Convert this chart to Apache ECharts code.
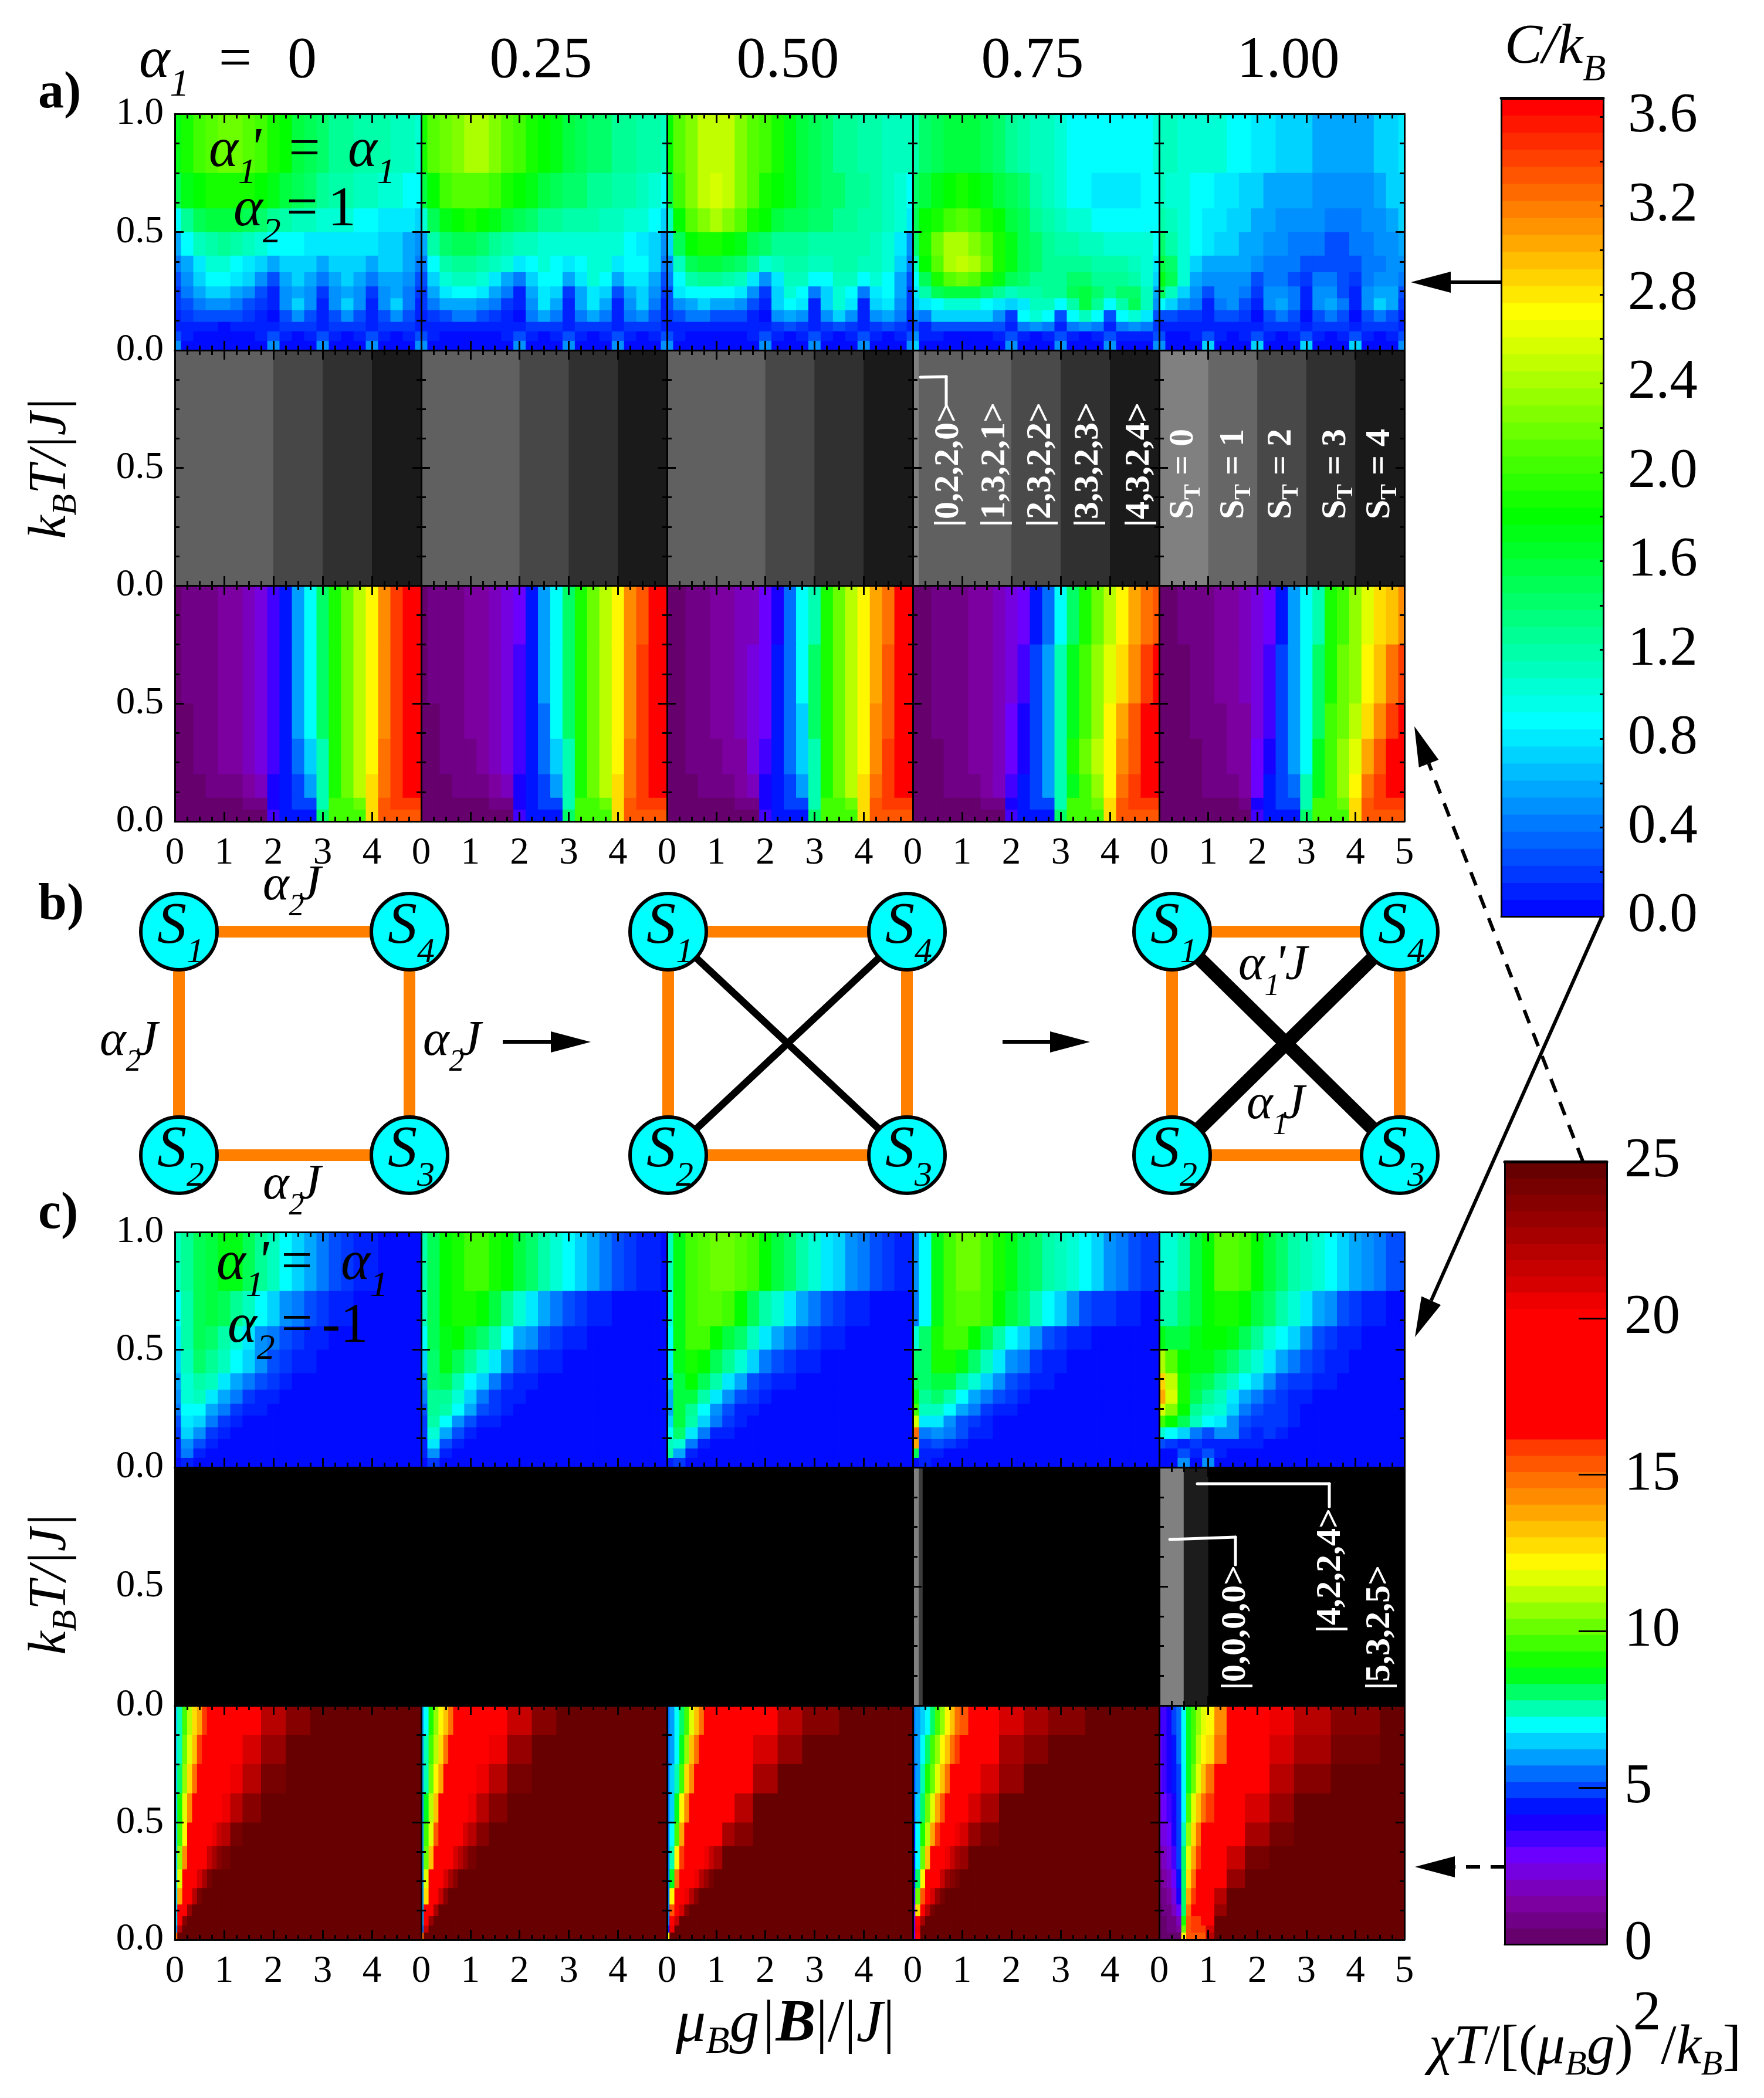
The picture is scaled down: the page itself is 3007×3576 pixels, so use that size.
<!DOCTYPE html>
<html><head><meta charset="utf-8"><style>html,body{margin:0;padding:0;background:#fff}#c{width:3007px;height:3576px}</style>
<script src="https://cdn.jsdelivr.net/npm/echarts@6/dist/echarts.min.js"></script></head><body><div id="c"></div><script>
// ---- sampling positions of the tables (field, temperature) ----
const X_STD=[0,.25,.5,.75,1,1.25,1.5,1.75,2,2.25,2.5,2.75,3,3.25,3.5,3.75,4,4.25,4.5,4.75,5];
const X_FINE=[0,.1,.2,.3,.4,.5,.6,.7,.8,.9,1,1.25,1.5,2,2.5,3,4,5];
const T_C=[1,.75,.6,.5,.4,.33,.27,.22,.17,.12,.08,.04,0];
const T_CHI=[1,.75,.5,.35,.2,.1,.05,0];
const T_CHI_C=[1,.875,.75,.625,.5,.4,.3,.22,.15,.1,.06,.03,0];
// ---- heat capacity C/kB, tenths; rows top to bottom; short rows keep their last value to the right ----
const C_A_000=[[17,19,20,21,22,22,21,20,19,18,16,15,14,13,13,12,12,12,11,11,10],[15,17,18,19,19,19,19,18,17,16,15,14,13,12,12,11,11,10,10,9,9],[9,13,15,16,16,16,15,14,13,12,11,11,10,10,10,9,9,8,8,8,7],[6,9,11,12,13,12,11,10,9,9,9,8,8,8,8,8,8,7,7,6,5],[4,6,8,10,10,9,8,7,6,7,7,7,6,7,7,7,6,7,7,6,4],[3,5,7,9,9,8,7,5,3,6,7,6,4,6,7,6,4,6,6,5,3],[2,4,6,7,7,6,5,3,1,5,6,5,2,5,6,5,2,5,6,4,2],[2,3,4,5,5,4,3,2,1,5,7,5,1,5,7,5,1,5,7,4,1],[1,2,3,3,3,3,2,1,0,3,5,3,1,3,5,3,1,3,5,3,1],[1,1,1,1,0,1,1,1,1,2,2,2,1,2,2,2,1,2,2,2,1],[3,1,0,0,0,0,0,1,3,1,0,1,3,1,0,1,3,1,0,1,3],[5,0,0,0,0,0,0,0,5,0,0,0,5,0,0,0,5,0,0,0,5]];
const C_A_025=[[19,21,22,23,24,24,23,21,20,19,18,17,16,15,14,14,13,13,12,12,11],[16,18,20,21,21,21,20,19,18,17,16,15,14,14,13,13,12,12,11,10,9],[10,15,17,18,19,18,17,16,15,14,13,13,12,12,12,11,11,10,10,9,7],[6,12,14,15,15,14,13,12,11,11,10,10,10,10,10,10,10,9,8,7,5],[4,9,12,13,13,12,11,10,8,9,10,9,8,9,10,10,8,9,9,7,4],[3,7,10,11,11,10,8,6,4,7,9,9,6,8,10,9,6,8,8,6,3],[2,6,8,9,9,8,6,4,1,6,8,7,2,6,8,7,3,6,7,5,2],[2,4,6,6,6,5,4,2,1,5,8,6,1,6,8,6,1,5,7,4,1],[1,2,3,4,4,3,2,1,0,4,6,4,1,4,6,4,1,4,5,3,1],[1,1,1,1,1,1,1,1,1,2,2,2,1,2,2,2,1,2,2,2,1],[3,1,0,0,0,0,0,1,3,1,0,1,3,1,0,1,3,1,0,1,3],[5,0,0,0,0,0,0,0,5,0,0,0,5,0,0,0,5,0,0,0,5]];
const C_A_050=[[18,21,23,25,25,25,23,21,20,19,17,16,15,14,13,13,12,12,11,11,11],[16,20,23,25,26,25,23,21,19,18,17,16,15,14,14,13,13,12,11,10,9],[11,18,21,23,24,23,21,19,18,16,15,15,14,14,13,13,12,12,11,10,8],[7,15,18,19,19,18,17,15,14,13,13,13,12,12,12,12,12,11,10,8,5],[5,11,15,16,16,15,14,13,10,11,12,12,11,11,12,12,11,11,10,7,4],[4,9,12,13,13,12,11,8,5,8,11,11,9,9,11,11,9,10,9,6,3],[3,8,9,9,9,9,8,5,2,7,10,9,4,7,10,9,4,8,9,6,2],[3,5,6,7,6,6,5,3,1,7,9,8,1,7,10,8,1,7,8,5,2],[2,3,4,4,3,3,3,1,0,5,6,5,1,5,7,5,1,5,6,4,1],[1,1,1,1,1,1,1,1,1,2,3,2,1,2,3,2,1,2,3,2,1],[3,1,0,0,0,0,0,1,3,1,0,1,3,1,0,1,3,1,0,1,3],[5,0,0,0,0,0,0,0,5,0,0,0,5,0,0,0,5,0,0,0,5]];
const C_A_075=[[12,14,15,16,16,16,15,14,13,12,11,11,10,9,9,9,9,9,9,9,10],[14,16,17,18,19,18,17,16,15,14,12,11,10,9,9,8,8,8,8,9,9],[15,18,19,20,21,20,19,18,16,15,13,12,11,10,10,9,9,9,9,9,9],[14,19,22,24,24,23,21,19,17,15,14,13,12,12,11,11,10,10,10,10,9],[11,18,21,24,25,24,22,19,17,15,14,13,13,13,13,12,12,12,11,10,8],[9,15,19,21,22,21,19,17,15,14,13,13,13,14,14,13,13,13,12,10,7],[8,12,15,16,16,16,14,13,11,12,12,13,13,15,16,14,13,14,14,11,6],[7,8,9,10,10,10,9,8,7,8,11,11,9,12,16,13,9,12,15,11,5],[5,4,7,7,7,7,7,5,2,9,10,9,3,9,11,9,3,9,10,8,3],[3,1,3,3,3,3,3,3,1,4,5,4,1,4,5,4,1,4,5,4,2],[5,1,1,0,0,0,0,1,3,1,0,1,3,1,0,1,3,1,1,1,3],[7,0,0,0,0,0,0,0,5,0,0,0,5,0,0,0,5,0,0,0,5]];
const C_A_100=[[11,11,10,10,10,10,9,9,8,8,7,7,7,6,6,6,6,6,7,7,8],[11,10,10,9,9,8,8,7,7,6,6,6,6,5,5,5,5,5,6,7,7],[12,11,10,9,8,8,7,7,6,6,5,5,5,5,4,4,4,5,5,6,7],[14,12,10,9,8,7,7,6,6,5,5,4,4,4,3,3,4,4,5,5,6],[16,14,10,7,6,6,6,6,5,4,4,4,3,3,3,3,3,4,4,5,5],[17,15,10,6,5,5,5,5,3,4,4,3,2,4,4,3,2,4,5,5,4],[15,11,7,5,3,5,5,4,2,5,5,4,1,5,5,3,1,5,6,6,3],[9,7,5,4,1,4,5,3,1,5,6,4,1,5,6,4,1,5,7,6,2],[3,3,2,2,1,3,3,2,0,3,4,3,0,3,4,3,0,3,4,3,1],[1,1,1,1,1,1,1,1,1,2,2,2,1,2,2,2,1,2,2,2,1],[3,0,0,1,3,1,0,1,3,1,0,1,3,1,0,1,3,1,0,1,3],[5,0,0,0,7,0,0,0,7,0,0,0,7,0,0,0,7,0,0,0,5]];
const C_C_000=[[11,13,15,16,17,17,15,13,11,9,7,6,4,3,2,1,1,0],[9,12,15,16,15,13,11,9,7,5,4,3,2,1,1,0],[8,12,15,14,12,10,8,5,4,3,2,1,1,0],[7,11,14,13,11,9,7,5,3,2,1,1,0],[6,10,12,11,8,6,4,3,2,1,0],[5,10,11,8,6,4,2,1,1,0],[4,9,9,6,4,2,1,1,0],[3,8,7,4,2,1,0],[2,7,5,2,1,0],[1,5,3,1,0],[1,4,1,0],[0,1,0]];
const C_C_025=[[12,15,18,19,20,20,19,18,16,14,12,10,9,7,6,4,3,2,1,1,0],[11,15,18,19,19,18,16,13,10,8,6,4,3,2,1,1,0],[9,15,17,18,16,14,12,9,6,5,3,2,1,1,0],[7,14,17,15,13,10,8,5,3,2,1,1,0],[5,14,15,12,9,7,4,2,1,1,0],[4,13,13,10,7,4,2,1,1,0],[3,13,12,9,6,3,2,1,0],[2,12,9,5,3,1,1,0],[2,10,6,3,1,0],[1,8,3,1,0],[1,5,1,0],[0,2,0]];
const C_C_050=[[11,17,20,21,22,22,21,20,18,16,14,12,10,8,7,5,4,3,2,1,1],[10,17,20,21,21,20,18,15,12,10,8,6,4,3,2,1,1,0],[9,17,20,20,18,16,14,11,8,6,4,3,2,1,1,0],[8,17,19,18,15,13,10,7,4,3,2,1,1,0],[7,16,18,15,12,8,6,3,2,1,1,0],[6,16,16,12,8,5,3,2,1,0],[6,16,13,9,5,3,1,1,0],[7,16,12,7,4,2,1,0],[9,14,8,4,1,1,0],[11,10,4,1,0],[12,6,1,0],[1,2,0]];
const C_C_075=[[5,9,17,20,22,22,20,19,17,15,14,12,11,10,9,7,5,4,3,2,2],[4,9,17,20,21,21,20,18,16,14,11,9,7,5,3,2,2,1,1,0],[10,14,19,20,20,18,15,12,9,7,5,3,2,1,1,0],[14,14,19,19,17,14,11,8,5,4,2,1,1,0],[15,14,16,16,13,10,7,5,3,2,1,1,0],[17,13,14,12,9,6,4,3,2,1,0],[20,11,11,9,6,4,2,1,1,0],[26,8,8,5,3,2,1,0],[33,4,5,4,3,1,1,0],[30,2,3,2,1,0],[15,1,1,0],[0,1,0]];
const C_C_100=[[10,10,12,16,18,21,21,20,18,16,14,12,11,10,9,7,6,5,4,3,3],[12,12,14,16,18,19,19,18,16,14,12,10,8,6,5,3,2,1,1,0],[17,16,16,17,18,18,17,15,13,10,9,7,5,3,2,1,1,0],[24,21,18,17,17,16,14,12,10,8,6,4,3,2,1,1,0],[29,25,19,16,15,13,11,9,7,5,3,2,2,1,1,0],[30,26,19,15,13,11,8,6,4,3,2,1,1,0],[26,23,18,13,11,10,7,4,3,2,2,1,0],[20,18,15,11,9,8,5,3,2,2,2,1,0],[10,9,7,4,3,5,5,2,1,2,1,0],[3,2,1,2,1,1,1,1,1,0],[0,0,3,1,3,1,0],[0,0,5,0,5,0,0]];
// ---- chi*T, tenths ----
const CHI_A_000=[[5,6,8,10,13,15,18,23,33,45,60,70,80,92,103,113,123,143,157,165,170],[5,6,8,10,13,15,18,24,34,45,60,70,80,92,103,113,123,145,158,166,172],[5,5,7,10,12,15,18,24,34,45,58,68,80,92,103,113,123,145,158,166,172],[5,5,6,9,11,13,17,24,36,45,55,67,78,90,100,111,123,146,160,165,170],[5,5,5,6,8,10,13,20,38,45,50,60,75,90,100,110,125,150,160,165,165],[5,5,5,5,5,5,6,10,38,45,47,52,75,95,97,100,125,155,158,160,158],[5,5,5,5,5,5,5,5,35,45,45,45,80,95,95,95,130,155,155,155,155]];
const CHI_A_025=[[5,6,8,10,12,14,17,22,31,43,58,70,80,92,102,112,122,141,156,165,170],[5,6,7,10,12,14,17,23,33,44,58,70,80,92,103,113,123,144,157,165,171],[5,5,7,9,12,14,17,23,33,44,57,68,80,92,103,113,123,145,158,166,172],[5,5,6,8,10,13,16,23,35,45,55,67,78,90,100,111,123,146,160,165,170],[5,5,5,6,8,10,13,20,38,45,50,60,75,90,100,110,125,150,160,165,165],[5,5,5,5,5,5,6,10,38,45,47,52,75,95,97,100,125,155,158,160,158],[5,5,5,5,5,5,5,5,35,45,45,45,80,95,95,95,130,155,155,155,155]];
const CHI_A_050=[[5,5,7,9,11,13,16,20,28,40,55,68,78,90,100,110,120,136,150,162,168],[5,5,7,9,11,14,16,21,30,42,56,68,79,91,102,112,122,140,154,163,170],[5,5,6,9,11,13,16,21,31,43,55,67,80,92,102,112,123,143,156,165,171],[4,5,6,8,10,12,15,21,33,44,54,66,78,90,100,111,123,145,158,165,170],[4,5,5,6,8,10,13,19,37,45,50,60,75,90,100,110,125,150,160,165,165],[5,5,5,5,5,5,6,10,38,45,47,52,75,95,97,100,125,155,158,160,158],[5,5,5,5,5,5,5,5,35,45,45,45,80,95,95,95,130,155,155,155,155]];
const CHI_A_075=[[5,5,6,8,10,12,14,17,22,30,42,55,70,82,92,102,112,124,136,148,155],[4,5,6,8,10,12,14,18,25,36,48,60,74,85,95,105,116,130,145,157,163],[3,4,6,8,10,12,14,18,27,38,50,62,76,88,98,108,120,137,152,163,168],[3,4,5,7,9,11,13,18,29,40,50,62,77,89,99,110,122,143,156,165,168],[3,3,4,6,8,10,12,17,33,44,49,58,74,88,98,108,123,148,158,165,165],[4,4,4,5,5,5,6,9,38,45,47,52,75,95,97,100,125,155,158,160,158],[5,5,5,5,5,5,5,5,35,45,45,45,80,95,95,95,130,155,155,155,155]];
const CHI_A_100=[[4,4,6,8,10,12,14,17,23,30,45,58,70,78,90,98,105,115,125,135,145],[3,3,5,7,9,11,13,16,24,32,47,60,70,80,92,100,108,120,135,150,158],[2,3,4,6,8,10,12,15,25,34,48,60,71,82,95,103,113,130,145,158,165],[2,2,3,5,7,9,11,15,27,38,47,58,72,85,97,105,118,140,153,163,168],[2,2,3,4,6,8,10,15,31,43,48,57,73,87,97,106,122,148,157,165,165],[3,3,3,3,4,4,5,9,38,45,47,52,75,95,97,100,125,155,158,160,158],[4,4,4,4,4,4,4,5,35,45,45,45,80,95,95,95,130,155,155,155,155]];
const CHI_C_000=[[65,76,96,112,125,140,160,166,170,174,178,188,200,219,238,246,250],[65,78,102,118,134,157,166,171,175,178,183,196,210,234,246,250],[65,82,109,125,150,165,171,175,180,185,193,208,222,243,248,250],[65,91,116,143,165,172,177,183,190,196,207,222,239,249,250],[65,98,123,162,172,178,187,196,204,215,223,241,247,250],[65,108,145,168,176,192,203,215,226,236,243,249,250],[65,119,168,177,196,212,228,241,246,249,250],[65,138,173,199,221,241,247,250],[65,168,198,231,247,250],[65,178,235,249,250],[60,222,250],[150,250]];
const CHI_C_025=[[60,72,90,107,120,133,150,163,168,172,176,185,197,215,235,245,250],[60,75,97,114,128,148,164,169,173,176,181,193,207,230,245,250],[60,78,103,120,140,163,169,173,177,182,190,205,219,240,248,250],[60,86,112,133,162,170,175,181,187,193,204,219,236,248,250],[60,94,119,152,170,176,184,193,202,212,220,238,246,250],[60,104,135,165,174,188,200,212,223,233,241,248,250],[60,115,163,175,192,209,225,238,245,248,250],[60,130,171,196,218,238,246,250],[60,163,195,228,245,250],[60,176,232,248,250],[55,218,250],[150,250]];
const CHI_C_050=[[55,61,69,79,94,118,132,147,162,167,170,176,185,200,220,238,250],[55,62,72,86,108,131,147,162,168,171,173,183,192,213,234,246,250],[55,63,76,94,125,143,163,168,171,175,180,190,202,228,245,250],[55,66,84,120,141,164,170,173,179,184,190,203,221,245,250],[55,70,95,136,164,170,176,184,190,197,203,224,238,250],[55,76,124,160,171,179,187,197,206,216,226,245,250],[55,86,150,171,181,193,207,222,234,243,247,250],[55,120,169,186,204,222,238,247,250],[55,155,186,210,238,249,250],[55,172,214,247,250],[45,204,250],[120,250]];
const CHI_C_075=[[55,60,65,72,82,98,108,120,133,146,156,168,181,210,228,238,250],[53,61,70,82,94,108,120,134,149,159,165,178,197,224,237,248,250],[50,62,74,90,102,118,135,151,163,170,172,192,212,233,246,250],[48,64,82,100,117,136,155,165,172,179,192,212,228,245,250],[45,68,90,113,137,158,168,177,192,205,212,232,243,250],[42,72,102,133,162,172,187,205,218,227,233,246,250],[38,80,124,162,177,200,218,230,236,243,247,250],[35,100,156,183,211,230,240,250],[30,127,180,222,240,250],[25,165,225,246,250],[25,205,250],[30,170,250]];
const CHI_C_100=[[34,36,41,47,57,72,86,96,105,115,124,143,168,188,208,223,239,250],[31,34,39,45,55,70,86,98,110,120,130,150,172,192,213,228,243,250],[28,32,37,43,52,70,88,104,118,132,146,165,177,200,220,236,249,250],[24,29,34,41,50,72,94,117,133,148,160,173,183,212,232,245,250],[21,26,31,38,50,78,108,128,148,163,170,183,198,228,243,250],[15,20,25,33,47,80,118,140,158,168,173,192,214,242,250],[10,14,20,29,44,80,125,150,165,170,176,202,232,250],[6,9,13,23,38,80,140,160,168,175,184,222,246,250],[5,6,9,16,30,82,150,163,168,176,188,232,250],[5,5,7,10,20,90,155,160,160,165,200,250],[5,5,6,8,12,100,155,158,158,160,210,250],[5,5,5,5,5,120,155,155,155,155,220,250]];
// ---- ground-state shade bands: [from field, to field, grey level] ----
const GS_A_000=[[0,2,96],[2,3,71],[3,4,48],[4,5,26]];
const GS_A_025=[[0,2,96],[2,3,71],[3,4,48],[4,5,26]];
const GS_A_050=[[0,2,96],[2,3,71],[3,4,48],[4,5,26]];
const GS_A_075=[[0,.12,128],[.12,2,96],[2,3,74],[3,4,48],[4,5,26]];
const GS_A_100=[[0,1,128],[1,2,102],[2,3,72],[3,4,48],[4,5,26]];
const GS_C_000=[[0,5,0]],GS_C_025=[[0,5,0]],GS_C_050=[[0,5,0]];
const GS_C_075=[[0,.12,128],[.12,.2,60],[.2,5,0]];
const GS_C_100=[[0,.5,128],[.5,1,28],[1,5,0]];
// ---- tick labels and headers ----
const ALPHA_LABELS=['0.25','0.50','0.75','1.00'];
const BAR_C_MAX=3.685, BAR_CHI_MAX=25, BANDS=48;
// ---- diagram b ----
const NODES_1=[[305,1588,'1'],[698,1588,'4'],[305,1969,'2'],[698,1969,'3']];
const NODES_2=[[1139,1588,'1'],[1546,1588,'4'],[1139,1969,'2'],[1546,1969,'3']];
const NODES_3=[[1998,1588,'1'],[2386,1588,'4'],[1998,1969,'2'],[2386,1969,'3']];
const CROSS_WIDTH=[0,12,24];
const ARROWS=[[857,1776,1007,1776,0],[1709,1776,1858,1776,0],[2559,481,2405,481,0],[2731,1562,2412,2279,0],[2698,1979,2411,1238,1],[2565,3182,2412,3182,1]];
const CONNECT=[[1569,643,1613,642],[1613,642,1613,690],[2041,2529,2266,2529],[2266,2529,2266,2568],[1994,2624,2106,2620],[2106,2620,2106,2667]];
// ---- layout ----
const PX=[298,718,1137,1556,1976,2394];
const PY=[[194,597],[597,998],[998,1400],[2100,2501],[2501,2907],[2907,3306]];
const FONT='"Liberation Serif","Times New Roman",serif';
function lerpStops(st,v){ if(v<=st[0][0])return st[0][1]; for(let i=1;i<st.length;i++){ if(v<=st[i][0]){const [a,ca]=st[i-1],[b,cb]=st[i],t=(v-a)/(b-a);return ca.map((c,k)=>Math.round(c+(cb[k]-c)*t));}} return st[st.length-1][1];}
const STOPS_C=[[0,[0,0,255]],[.88,[0,255,255]],[1.8,[0,255,0]],[2.72,[255,255,0]],[3.65,[255,0,0]]];
const STOPS_CHI=[[0,[96,0,96]],[1.5,[127,0,168]],[2.8,[112,0,255]],[4.2,[0,0,255]],[5.5,[0,112,255]],[7,[0,255,255]],[8.8,[0,255,0]],[12.1,[255,255,0]],[15.9,[255,58,0]],[16.2,[255,0,0]],[20.3,[255,0,0]],[20.8,[224,0,0]],[25,[95,0,0]]];
function palette(st,max){const w=max/BANDS,a=[];for(let i=0;i<BANDS;i++){a.push('rgb('+lerpStops(st,(i+.5)*w).join(',')+')');}return v=>a[Math.max(0,Math.min(BANDS-1,Math.floor(v/w)))];}
const colC=palette(STOPS_C,BAR_C_MAX), colChi=palette(STOPS_CHI,BAR_CHI_MAX), colGrey=v=>'rgb('+v+','+v+','+v+')';
function cells(xs,ts,rows,scale){const out=[];const xe=[0];for(let i=1;i<xs.length;i++)xe.push((xs[i-1]+xs[i])/2);xe.push(xs[xs.length-1]);
 rows.forEach((r,ri)=>{xs.forEach((_,ci)=>{out.push([xe[ci],xe[ci+1],ts[ri+1],ts[ri],r[Math.min(ci,r.length-1)]*scale]);});});return out;}
const xAxes=[],yAxes=[],grids=[],series=[];
function rectSeries(data,xi,yi,col,z){series.push({type:'custom',silent:true,xAxisIndex:xi,yAxisIndex:yi,z:z||2,progressive:0,clip:true,data,
 renderItem(p,api){const a=api.coord([api.value(0),api.value(3)]),b=api.coord([api.value(1),api.value(2)]);
  return {type:'rect',shape:{x:a[0],y:a[1],width:b[0]-a[0]+1,height:b[1]-a[1]+1},style:{fill:col(api.value(4))}};}});}
const tickY={show:true,inside:true,length:15,lineStyle:{color:'#000',width:3}};
const tickX={show:true,inside:true,length:16,lineStyle:{color:'#000',width:3}};
const minor={show:true,splitNumber:4,length:8,lineStyle:{color:'#000',width:3}};
const line={show:true,onZero:false,lineStyle:{color:'#000',width:3}};
function panel(col,row,data,colour){
 const g=grids.length;grids.push({left:PX[col],top:PY[row][0],width:PX[col+1]-PX[col],height:PY[row][1]-PY[row][0],containLabel:false});
 const base={gridIndex:g,type:'value',z:10,splitLine:{show:false},minorSplitLine:{show:false},axisLine:line};
 const showX=(row===2||row===5);
 const xi=xAxes.length;
 xAxes.push({...base,position:'bottom',min:0,max:5,interval:1,axisTick:tickX,minorTick:minor,
  axisLabel:{show:showX,margin:22,fontFamily:FONT,fontSize:65,color:'#000',showMinLabel:true,showMaxLabel:true,hideOverlap:false,formatter:v=>(v===5&&col!==4)?'':String(v)}});
 xAxes.push({...base,position:'top',min:0,max:5,interval:1,axisTick:tickX,minorTick:minor,axisLabel:{show:false}});
 const yi=yAxes.length;
 yAxes.push({...base,position:'left',min:0,max:1,interval:.5,axisTick:tickY,minorTick:minor,
  axisLabel:{show:col===0,margin:19,fontFamily:FONT,fontSize:65,color:'#000',showMinLabel:true,showMaxLabel:true,hideOverlap:false,formatter:v=>(v===1&&row%3!==0)?'':v.toFixed(1)}});
 yAxes.push({...base,position:'right',min:0,max:1,interval:.5,axisTick:tickY,minorTick:minor,axisLabel:{show:false}});
 rectSeries(data,xi,yi,colour);
}
const gs=a=>a.map(b=>[b[0],b[1],0,1,b[2]]);
[C_A_000,C_A_025,C_A_050,C_A_075,C_A_100].forEach((t,c)=>panel(c,0,cells(X_STD,T_C,t,.1),colC));
[GS_A_000,GS_A_025,GS_A_050,GS_A_075,GS_A_100].forEach((t,c)=>panel(c,1,gs(t),colGrey));
[CHI_A_000,CHI_A_025,CHI_A_050,CHI_A_075,CHI_A_100].forEach((t,c)=>panel(c,2,cells(X_STD,T_CHI,t,.1),colChi));
[C_C_000,C_C_025,C_C_050,C_C_075,C_C_100].forEach((t,c)=>panel(c,3,cells(X_STD,T_C,t,.1),colC));
[GS_C_000,GS_C_025,GS_C_050,GS_C_075,GS_C_100].forEach((t,c)=>panel(c,4,gs(t),colGrey));
[CHI_C_000,CHI_C_025,CHI_C_050,CHI_C_075,CHI_C_100].forEach((t,c)=>panel(c,5,cells(X_FINE,T_CHI_C,t,.1),colChi));
// colour bars
function bar(left,top,w,h,max,interval,minorN,tickLen,labelMargin,col,fmt){
 const g=grids.length;grids.push({left,top,width:w,height:h});
 const base={gridIndex:g,type:'value',z:10,splitLine:{show:false},axisLine:line};
 const xi=xAxes.length;
 xAxes.push({...base,position:'bottom',min:0,max:1,axisTick:{show:false},axisLabel:{show:false}});
 xAxes.push({...base,position:'top',min:0,max:1,axisTick:{show:false},axisLabel:{show:false},axisLine:{show:true,onZero:false,lineStyle:{color:'#000',width:5}}});
 const yi=yAxes.length;
 yAxes.push({...base,position:'right',min:0,max,interval,axisTick:{show:true,inside:true,length:tickLen,lineStyle:{color:'#000',width:3}},
  minorTick:{show:minorN>0,splitNumber:minorN||2,length:tickLen,lineStyle:{color:'#000',width:3}},
  axisLabel:{show:true,margin:labelMargin,fontFamily:FONT,fontSize:95,color:'#000',hideOverlap:false,showMaxLabel:true,showMinLabel:true,formatter:fmt}});
 yAxes.push({...base,position:'left',min:0,max,interval,axisTick:{show:false},axisLabel:{show:false}});
 const d=[],bw=max/BANDS;for(let i=0;i<BANDS;i++)d.push([0,1,i*bw,(i+1)*bw,(i+.5)*bw]);
 rectSeries(d,xi,yi,col);
}
bar(2559,167,174,1395,BAR_C_MAX,.4,2,6,42,colC,v=>v>3.65?'':v.toFixed(1));
bar(2565,1980,174,1334,BAR_CHI_MAX,5,0,48,30,colChi,v=>String(v));
// diagram canvas: page-sized hidden axes
const hg=grids.length;grids.push({left:0,top:0,width:3007,height:3576});
const hx=xAxes.length;xAxes.push({gridIndex:hg,type:'value',min:0,max:3007,show:false});
const hy=yAxes.length;yAxes.push({gridIndex:hg,type:'value',min:0,max:3576,inverse:true,show:false});
const SEG=[];const ORANGE='#ff8000';
[NODES_1,NODES_2,NODES_3].forEach((n,i)=>{
 [[0,1],[2,3]].forEach(e=>SEG.push([n[e[0]][0],n[e[0]][1],n[e[1]][0],n[e[1]][1],20,ORANGE]));
 [[0,2],[1,3]].forEach(e=>SEG.push([n[e[0]][0],n[e[0]][1],n[e[1]][0],n[e[1]][1],20,ORANGE]));
 if(CROSS_WIDTH[i]){[[0,3],[2,1]].forEach(e=>SEG.push([n[e[0]][0],n[e[0]][1],n[e[1]][0],n[e[1]][1],CROSS_WIDTH[i],'#000']));}
});
CONNECT.forEach(c=>SEG.push([c[0],c[1],c[2],c[3],5,'#fff']));
series.push({type:'custom',silent:true,xAxisIndex:hx,yAxisIndex:hy,z:20,clip:false,progressive:0,data:SEG.map(s=>({value:s.slice(0,5),col:s[5]})),
 renderItem(p,api){const a=api.coord([api.value(0),api.value(1)]),b=api.coord([api.value(2),api.value(3)]);
  return {type:'line',shape:{x1:a[0],y1:a[1],x2:b[0],y2:b[1]},style:{stroke:SEG[p.dataIndex][5],lineWidth:api.value(4),lineCap:'round'}};}});
series.push({type:'scatter',silent:true,xAxisIndex:hx,yAxisIndex:hy,z:21,symbol:'circle',symbolSize:130,itemStyle:{color:'#00ffff',borderColor:'#000',borderWidth:6,opacity:1},
 data:[...NODES_1,...NODES_2,...NODES_3].map(n=>[n[0],n[1]])});
series.push({type:'custom',silent:true,xAxisIndex:hx,yAxisIndex:hy,z:22,clip:false,progressive:0,data:ARROWS,
 renderItem(p,api){const a=api.coord([api.value(0),api.value(1)]),b=api.coord([api.value(2),api.value(3)]);
  const dx=b[0]-a[0],dy=b[1]-a[1],L=Math.hypot(dx,dy),ux=dx/L,uy=dy/L,hl=68,hw=18;const bx=b[0]-ux*hl,by=b[1]-uy*hl;
  return {type:'group',children:[
   {type:'line',shape:{x1:a[0],y1:a[1],x2:bx,y2:by},style:{stroke:'#000',lineWidth:6,lineDash:api.value(4)?[24,18]:null}},
   {type:'polygon',shape:{points:[[b[0],b[1]],[bx-uy*hw,by+ux*hw],[bx+uy*hw,by-ux*hw]]},style:{fill:'#000'}}]};}});
// text helper
const mctx=document.createElement('canvas').getContext('2d');
function seq(x,y,pieces,opt){opt=opt||{};let cx=0;const kids=[];
 pieces.forEach(p=>{const font=(p.i?'italic ':'')+(p.b?'bold ':'')+p.s+'px '+FONT;mctx.font=font;const w=mctx.measureText(p.t).width;
  kids.push({type:'text',x:cx,y:p.dy||0,z:100,silent:true,style:{text:p.t,font,fill:p.fill||opt.fill||'#000',align:'left',verticalAlign:'middle'}});cx+=w*(p.adv===undefined?1:p.adv);});
 if(opt.center)kids.forEach(k=>k.x-=cx/2);
 return {type:'group',x,y,rotation:opt.rot||0,z:100,silent:true,children:kids};}
const A=(s)=>({t:'α',s,i:1});
const sub=(t,s,dy,adv,extra)=>Object.assign({t,s,i:1,dy,adv},extra||{});
const R90=Math.PI/2,G=[];
// column headers
const HEAD_Y=105;
G.push(seq(237,HEAD_Y,[A(100),sub('1',66,41)]));
G.push(seq(401,HEAD_Y,[{t:'=',s:100}],{center:1}));
G.push(seq(515,HEAD_Y,[{t:'0',s:100}],{center:1}));
[922,1343,1760,2196].forEach((x,i)=>G.push(seq(x,HEAD_Y,[{t:ALPHA_LABELS[i],s:100}],{center:1})));
G.push(seq(65,160,[{t:'a)',s:88,b:1}]));G.push(seq(65,1544,[{t:'b)',s:88,b:1}]));G.push(seq(65,2070,[{t:'c)',s:88,b:1}]));
// panel captions
G.push(seq(356,258,[A(95),sub('1',62,38,.6),{t:"'",s:95,i:1}]));G.push(seq(519,258,[{t:'=',s:95}],{center:1}));G.push(seq(593,258,[A(95),sub('1',62,38)]));
G.push(seq(398,359,[A(95),sub('2',62,38)]));G.push(seq(515,359,[{t:'=',s:95}],{center:1}));G.push(seq(583,359,[{t:'1',s:95}],{center:1}));
G.push(seq(369,2155,[A(95),sub('1',62,38,.6),{t:"'",s:95,i:1}]));G.push(seq(506,2155,[{t:'=',s:95}],{center:1}));G.push(seq(581,2155,[A(95),sub('1',62,38)]));
G.push(seq(388,2262,[A(95),sub('2',62,38)]));G.push(seq(506,2262,[{t:'=',s:95}],{center:1}));G.push(seq(588,2262,[{t:'-1',s:95}],{center:1}));
// axis titles
[798,2700].forEach(y=>G.push(seq(87,y,[{t:'k',s:90,i:1},sub('B',60,26,1),{t:'T/|J|',s:90,i:1}],{rot:R90,center:1})));
G.push(seq(1152,3452,[{t:'μ',s:102,i:1},sub('B',66,30),{t:'g|',s:102,i:1},{t:'B',s:102,i:1,b:1},{t:'|/|',s:102},{t:'J',s:102,i:1},{t:'|',s:102}]));
G.push(seq(2436,3492,[{t:'χ',s:95,i:1},{t:'T',s:95,i:1},{t:'/[(',s:95},{t:'μ',s:95,i:1},sub('B',60,28),{t:'g',s:95,i:1},{t:')',s:95},{t:'2',s:95,dy:-58},{t:'/',s:95},{t:'k',s:95,i:1},sub('B',60,28),{t:']',s:95}]));
G.push(seq(2565,82,[{t:'C/k',s:96,i:1},sub('B',64,38)]));
// ground-state labels
const KET_A=['|0,2,2,0>','|1,3,2,1>','|2,3,2,2>','|3,3,2,3>','|4,3,2,4>'];const KET_A_X=[1617,1696,1774,1855,1942];
KET_A.forEach((t,i)=>G.push(seq(KET_A_X[i],792,[{t,s:60,b:1}],{rot:R90,center:1,fill:'#fff'})));
const ST_X=[2017,2103,2184,2277,2352];
ST_X.forEach((x,i)=>G.push(seq(x,808,[{t:'S',s:60,b:1},{t:'T',s:40,b:1,dy:18},{t:' = '+i,s:60,b:1}],{rot:R90,center:1,fill:'#fff'})));
[['|0,0,0,0>',2106,2774],['|4,2,2,4>',2268,2677],['|5,3,2,5>',2352,2774]].forEach(k=>G.push(seq(k[1],k[2],[{t:k[0],s:60,b:1}],{rot:R90,center:1,fill:'#fff'})));
// diagram labels
[...NODES_1,...NODES_2,...NODES_3].forEach(n=>G.push(seq(n[0]-37,n[1]-8,[{t:'S',s:100,i:1},sub(n[2],60,44)])));
const EJ=(s,p)=>[A(85),sub(s,52,35,.65),...(p?[{t:"'",s:85,i:1}]:[]),{t:'J',s:85,i:1}];
[[448,1511],[448,2021],[170,1776],[721,1776]].forEach(p=>G.push(seq(p[0],p[1],EJ('2'))));
G.push(seq(2111,1647,EJ('1',1)));G.push(seq(2125,1884,EJ('1')));

const chart=echarts.init(document.getElementById('c'),null,{renderer:'canvas',width:3007,height:3576});
chart.setOption({animation:false,backgroundColor:'#fff',grid:grids,xAxis:xAxes,yAxis:yAxes,series,graphic:{elements:G},tooltip:{show:false}});
</script></body></html>
